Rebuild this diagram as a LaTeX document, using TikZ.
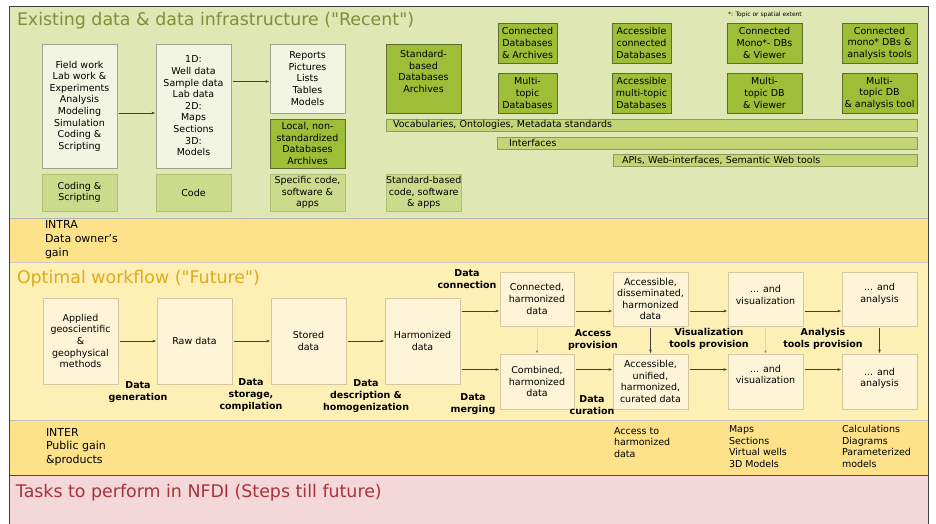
\documentclass[tikz,border=0pt]{standalone}
\usepackage{fontspec}
\setmainfont{DejaVu Sans}
\newfontfamily\nq{DejaVu Sans}
\usetikzlibrary{arrows.meta,calc}
\definecolor{greenbg}{HTML}{DFE8B5}
\definecolor{intrabg}{HTML}{FDE28A}
\definecolor{wfbg}{HTML}{FEEFB4}
\definecolor{pinkbg}{HTML}{F3D7D9}
\definecolor{lightbox}{HTML}{F2F5E1}
\definecolor{lightline}{HTML}{A3A38C}
\definecolor{darkbox}{HTML}{9EBE37}
\definecolor{darkline}{HTML}{5F6B30}
\definecolor{midbox}{HTML}{CCDA8C}
\definecolor{midline}{HTML}{B0BE78}
\definecolor{barfill}{HTML}{C4D575}
\definecolor{barline}{HTML}{8D9A5A}
\definecolor{wfbox}{HTML}{FEF5D8}
\definecolor{wfline}{HTML}{D5C79F}
\definecolor{tgreen}{HTML}{7F8E3A}
\definecolor{tyellow}{HTML}{DDAA1E}
\definecolor{tred}{HTML}{A8323C}
\definecolor{faintline}{HTML}{E6D8A0}
\begin{document}
\begin{tikzpicture}[x=1pt,y=-1pt,
  every node/.style={outer sep=0pt},
  boxbase/.style={draw, line width=0.6pt, align=center, inner sep=1pt, anchor=north west,
    font=\fontsize{9.5}{11.6}\selectfont},
  lightb/.style={boxbase, fill=lightbox, draw=lightline},
  darkb/.style={boxbase, fill=darkbox, draw=darkline},
  midb/.style={boxbase, fill=midbox, draw=midline},
  barb/.style={boxbase, fill=barfill, draw=barline, align=left, inner ysep=0pt, minimum height=12pt},
  wfb/.style={boxbase, fill=wfbox, draw=wfline},
  lbl/.style={align=center, inner sep=0pt, font=\bfseries\fontsize{9.5}{11.6}\selectfont},
  ttl/.style={anchor=west, inner sep=0pt, font=\fontsize{17.4}{20}\selectfont},
  gain/.style={anchor=west, align=left, inner sep=0pt, font=\fontsize{11}{13.8}\selectfont},
  prod/.style={anchor=west, align=left, inner sep=0pt, font=\fontsize{9.5}{11.6}\selectfont},
  arr/.style={-{Stealth[length=3.5pt,width=2.6pt]}, line width=0.45pt, draw=black!75, shorten <=1.5pt, shorten >=1pt},
  faint/.style={-{Stealth[length=2.5pt,width=2pt,color=black!55]}, line width=0.45pt, draw=faintline, shorten <=2pt, shorten >=1pt}
]
\useasboundingbox (0,0) rectangle (936,524);
\fill[white] (0,0) rectangle (936,524);
% sections
\fill[greenbg] (9,7) rectangle (928,218);
\fill[intrabg] (9,218) rectangle (928,262);
\fill[wfbg] (9,262) rectangle (928,420);
\fill[intrabg] (9,420) rectangle (928,475);
\fill[pinkbg] (9,475) rectangle (928,524);
\draw[line width=0.8pt, draw=black!30] (9,218) -- (928,218);
\draw[line width=0.6pt, draw=black!20] (9,262) -- (928,262);
\draw[line width=0.6pt, draw=black!25] (9,420) -- (928,420);
\draw[line width=0.8pt, draw=black!70] (9,475) -- (928,475);
\draw[line width=1pt, draw=black!75] (9,524) -- (9,7) -- (928,7) -- (928,524);

% titles
\node[ttl, text=tgreen] (t1) at (17,21) {Existing data \& data infrastructure ({\nq"}Recent{\nq"})};
\node[ttl, text=tyellow] (t2) at (17,279) {Optimal workflow ({\nq"}Future{\nq"})};
\node[ttl, text=tred] (t3) at (16,493) {Tasks to perform in NFDI (Steps till future)};
\node[anchor=west, inner sep=0pt, font=\fontsize{6}{7}\selectfont] (note) at (728,15) {*: Topic or spatial extent};

% existing: left boxes
\node[lightb, minimum width=75pt, minimum height=124pt] (fw) at (42,44)
  {Field work\\Lab work \&\\Experiments\\Analysis\\Modeling\\Simulation\\Coding \&\\Scripting};
\node[lightb, minimum width=75pt, minimum height=124pt] (d1) at (156,44)
  {1D:\\Well data\\Sample data\\Lab data\\2D:\\Maps\\Sections\\3D:\\Models};
\node[lightb, minimum width=75pt, minimum height=69pt] (rep) at (270,44)
  {Reports\\Pictures\\Lists\\Tables\\Models};
\node[darkb, minimum width=75pt, minimum height=49pt] (loc) at (270,119)
  {Local, non-\\standardized\\Databases\\Archives};
\node[darkb, minimum width=75pt, minimum height=69pt, text depth=14pt] (std) at (386,44)
  {Standard-\\based\\Databases\\Archives};
\node[midb, minimum width=75pt, minimum height=37pt] (cs) at (42,174) {Coding \&\\Scripting};
\node[midb, minimum width=75pt, minimum height=37pt] (code) at (156,174) {Code};
\node[midb, minimum width=75pt, minimum height=37pt] (spec) at (270,174) {Specific code,\\software \&\\apps};
\node[midb, minimum width=75pt, minimum height=37pt, inner sep=0pt] (stdc) at (386,174) {Standard-based\\code, software\\\& apps};

% existing: right boxes
\node[darkb, minimum width=59pt, minimum height=40pt] (cda) at (498,23) {Connected\\Databases\\\& Archives};
\node[darkb, minimum width=59pt, minimum height=40pt] (acd) at (612,23) {Accessible\\connected\\Databases};
\node[darkb, minimum width=75pt, minimum height=40pt] (cmv) at (727,23) {Connected\\Mono*- DBs\\\& Viewer};
\node[darkb, minimum width=75pt, minimum height=40pt] (cma) at (842,23) {Connected\\mono* DBs \&\\analysis tools};
\node[darkb, minimum width=59pt, minimum height=40pt] (mtd) at (498,73) {Multi-\\topic\\Databases};
\node[darkb, minimum width=59pt, minimum height=40pt] (amd) at (612,73) {Accessible\\multi-topic\\Databases};
\node[darkb, minimum width=75pt, minimum height=40pt] (mtv) at (727,73) {Multi-\\topic DB\\\& Viewer};
\node[darkb, minimum width=75pt, minimum height=40pt, inner sep=0pt] (mta) at (842,73) {Multi-\\topic DB\\\& analysis tool};

% bars
\node[barb, inner xsep=7pt, text width=517pt] (voc) at (386,119) {Vocabularies, Ontologies, Metadata standards};
\node[barb, inner xsep=12pt, text width=396pt] (intf) at (497,137) {Interfaces};
\node[barb, inner xsep=9pt, text width=286pt] (api) at (613,154) {APIs, Web-interfaces, Semantic Web tools};

% arrows existing
\draw[arr] ([yshift=-7pt]fw.east) -- ([yshift=-7pt]d1.west);
\coordinate (r1) at ([yshift=-3pt]rep.west);
\draw[arr] (d1.east |- r1) -- (r1);

% INTRA
\node[gain] (intra) at (45,239.5) {INTRA\\Data owner's\\gain};

% workflow boxes
\node[wfb, minimum width=75pt, minimum height=86pt] (ap) at (43,298) {Applied\\geoscientific\\\&\\geophysical\\methods};
\node[wfb, minimum width=75pt, minimum height=86pt] (raw) at (157,298) {Raw data};
\node[wfb, minimum width=75pt, minimum height=86pt] (sto) at (271,298) {Stored\\data};
\node[wfb, minimum width=75pt, minimum height=86pt] (hz) at (385,298) {Harmonized\\data};

\node[wfb, minimum width=74pt, minimum height=54pt] (con) at (500,272) {Connected,\\harmonized\\data};
\node[wfb, minimum width=75pt, minimum height=54pt] (acc) at (613,272) {Accessible,\\disseminated,\\harmonized\\data};
\node[wfb, minimum width=75pt, minimum height=54pt, text depth=8pt] (vis1) at (728,272) {... and\\visualization};
\node[wfb, minimum width=75pt, minimum height=54pt, text depth=12pt] (ana1) at (842,272) {... and\\analysis};
\node[wfb, minimum width=74pt, minimum height=55pt] (com) at (500,354) {Combined,\\harmonized\\data};
\node[wfb, minimum width=75pt, minimum height=55pt] (uni) at (613,354) {Accessible,\\unified,\\harmonized,\\curated data};
\node[wfb, minimum width=75pt, minimum height=55pt, text depth=14pt] (vis2) at (728,354) {... and\\visualization};
\node[wfb, minimum width=75pt, minimum height=55pt, text depth=8pt] (ana2) at (842,354) {... and\\analysis};

% workflow arrows
\draw[arr] (ap.east) -- (raw.west);
\draw[arr] (raw.east) -- (sto.west);
\draw[arr] (sto.east) -- (hz.west);
\coordinate (c1) at ([yshift=-12pt]con.west);
\coordinate (c2) at ([yshift=12pt]com.west);
\draw[arr] (hz.east |- c1) -- (c1);
\draw[arr] (hz.east |- c2) -- (c2);
\draw[arr] ([yshift=-12pt]con.east) -- ([yshift=-12pt]acc.west);
\draw[arr] ([yshift=-12pt]acc.east) -- ([yshift=-12pt]vis1.west);
\draw[arr] ([yshift=-12pt]vis1.east) -- ([yshift=-12pt]ana1.west);
\draw[arr] ([yshift=12pt]com.east) -- ([yshift=12pt]uni.west);
\draw[arr] ([yshift=12pt]uni.east) -- ([yshift=12pt]vis2.west);
\draw[arr] ([yshift=12pt]vis2.east) -- ([yshift=12pt]ana2.west);
\draw[arr] (acc.south) -- (uni.north);
\draw[arr] (ana1.south) -- (ana2.north);
\draw[faint] (con.south) -- (com.north);
\draw[faint] (vis1.south) -- (vis2.north);

% workflow labels
\node[lbl] (lg) at (138,392) {Data\\generation};
\node[lbl] (ls) at (251,395) {Data\\storage,\\compilation};
\node[lbl] (ld) at (366,396) {Data\\description \&\\homogenization};
\node[lbl] (lc) at (467,279) {Data\\connection};
\node[lbl] (lm) at (473,404) {Data\\merging};
\node[lbl] (la) at (593,340) {Access\\provision};
\node[lbl] (lv) at (709,339) {Visualization\\tools provision};
\node[lbl] (lan) at (823,339) {Analysis\\tools provision};
\node[lbl] (lcu) at (592,405) {Data\\curation};

% INTER
\node[gain] (inter) at (46,447) {INTER\\Public gain\\\&products};
\node[prod] (p1) at (614,442.5) {Access to\\harmonized\\data};
\node[prod] (p2) at (729,446.5) {Maps\\Sections\\Virtual wells\\3D Models};
\node[prod] (p3) at (842,446.5) {Calculations\\Diagrams\\Parameterized\\models};
\end{tikzpicture}
\end{document}
